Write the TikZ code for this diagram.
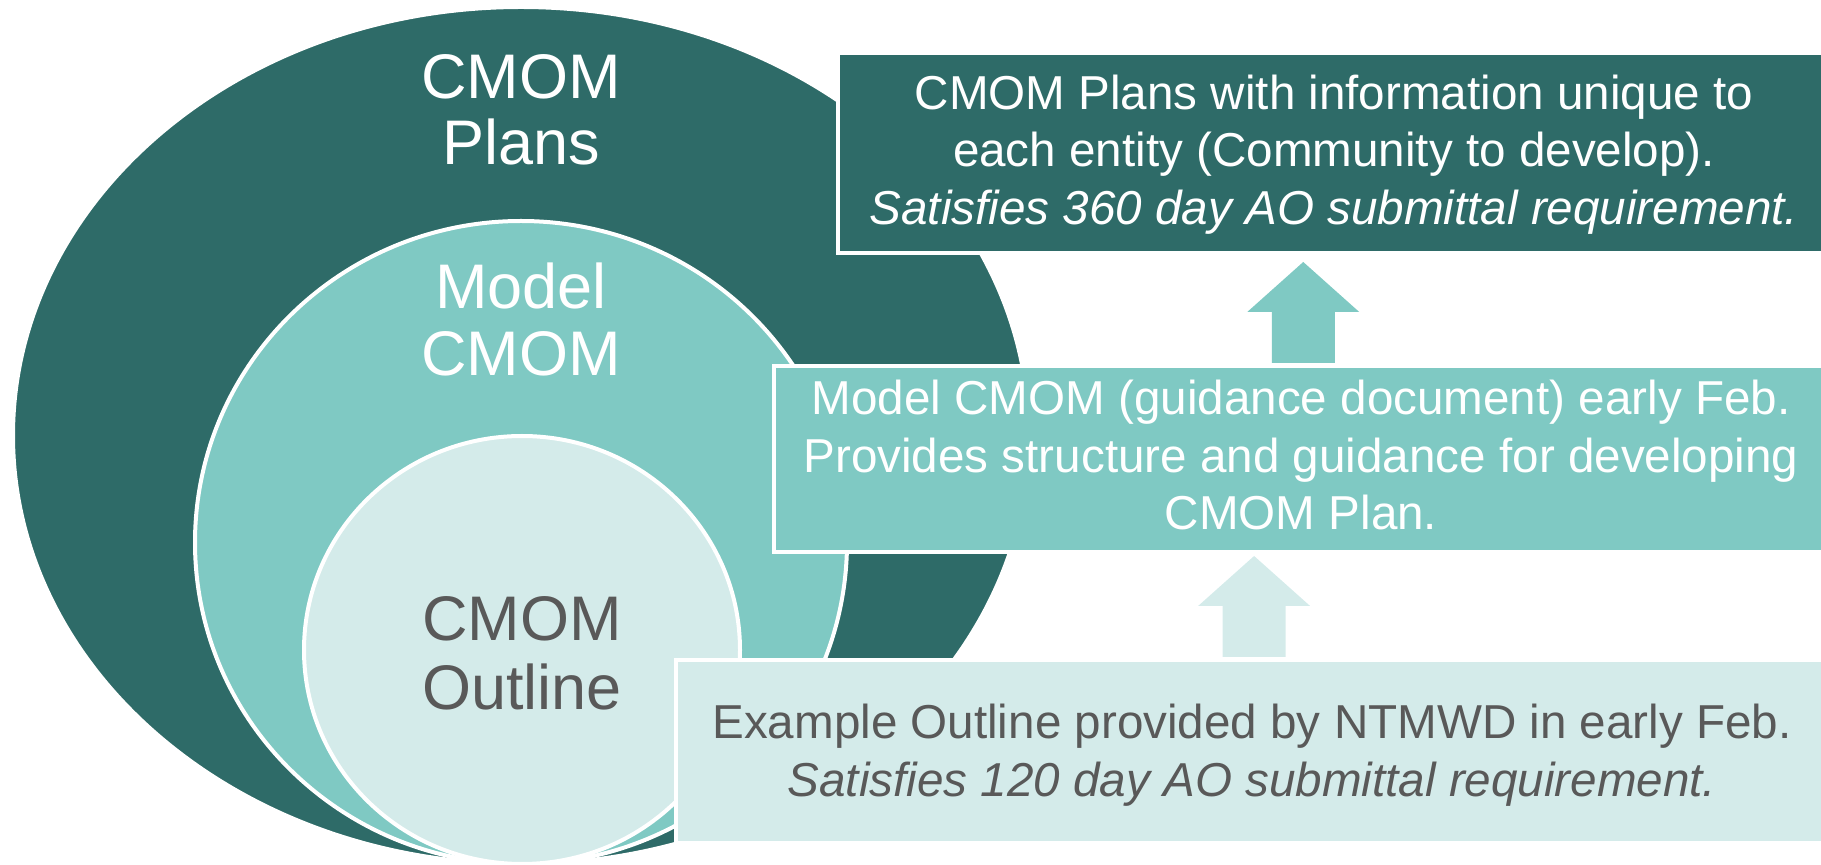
\documentclass[tikz,border=0pt]{standalone}
\usepackage{fontspec}
\setmainfont{Liberation Sans}
\usetikzlibrary{shapes.geometric}
\definecolor{deepteal}{HTML}{2E6B68}
\definecolor{midteal}{HTML}{7FC9C3}
\definecolor{paleteal}{HTML}{D4EBEA}
\definecolor{textgray}{HTML}{595959}

\begin{document}
\begin{tikzpicture}[x=0.5pt,y=-0.5pt,
  ring/.style={ellipse, draw=white, line width=2pt, inner sep=0pt},
  infobox/.style={rectangle, draw=white, line width=2pt, anchor=north west, inner sep=0pt},
  ringlabel/.style={font=\fontsize{31.5}{38}\selectfont, anchor=base, inner sep=0pt},
  boxline/.style={font=\fontsize{23.8}{28}\selectfont, anchor=base, inner sep=0pt},
  uparrow/.pic={
    \fill[pic actions] (-31.5,-1) -- (-31.5,-52) -- (-56,-52) -- (0,-102)
      -- (56,-52) -- (31.5,-52) -- (31.5,-1) -- cycle;
  }
]
\useasboundingbox (0,0) rectangle (1821,865);
\clip (0,0) rectangle (1821,865);

% nested rings, all resting on the same bottom point
\node[ring, fill=deepteal, minimum width=508pt, minimum height=428.5pt] (plans) at (521,435.5) {};
\node[ring, fill=midteal, minimum width=326pt, minimum height=321.5pt] (model) at (521,542.5) {};
\node[ring, fill=paleteal, minimum width=218pt, minimum height=214pt] (outline) at (522,650) {};

% ring labels
\node[ringlabel, text=white] (plansA) at (521,99) {CMOM};
\node[ringlabel, text=white] (plansB) at (521,165) {Plans};
\node[ringlabel, text=white] (modelA) at (521,309) {Model};
\node[ringlabel, text=white] (modelB) at (521,376) {CMOM};
\node[ringlabel, text=textgray] (outlineA) at (522,641) {CMOM};
\node[ringlabel, text=textgray] (outlineB) at (522,710) {Outline};

% description boxes
\node[infobox, fill=deepteal, minimum width=497.5pt, minimum height=100pt] (planbox) at (836,51) {};
\node[infobox, fill=midteal, minimum width=529.75pt, minimum height=93pt] (modelbox) at (771.5,364) {};
\node[infobox, fill=paleteal, minimum width=578.5pt, minimum height=91.5pt] (outlinebox) at (673.6,658) {};

% block arrows rising from each box to the one above
\path (modelbox.north) pic[fill=midteal] {uparrow};
\path (outlinebox.north) pic[fill=paleteal] {uparrow};

% box texts
\node[boxline, text=white] (pl1) at (1334,110) {CMOM Plans with information unique to};
\node[boxline, text=white] (pl2) at (1334,167) {each entity (Community to develop).};
\node[boxline, text=white] (pl3) at (1334,225) {\itshape Satisfies 360 day AO submittal requirement.};

\node[boxline, text=white] (ml1) at (1301,415) {Model CMOM (guidance document) early Feb.};
\node[boxline, text=white] (ml2) at (1301,473) {Provides structure and guidance for developing};
\node[boxline, text=white] (ml3) at (1301,530) {CMOM Plan.};

\node[boxline, text=textgray] (ol1) at (1252,739) {Example Outline provided by NTMWD in early Feb.};
\node[boxline, text=textgray] (ol2) at (1252,796) {\itshape Satisfies 120 day AO submittal requirement.};
\end{tikzpicture}
\end{document}
